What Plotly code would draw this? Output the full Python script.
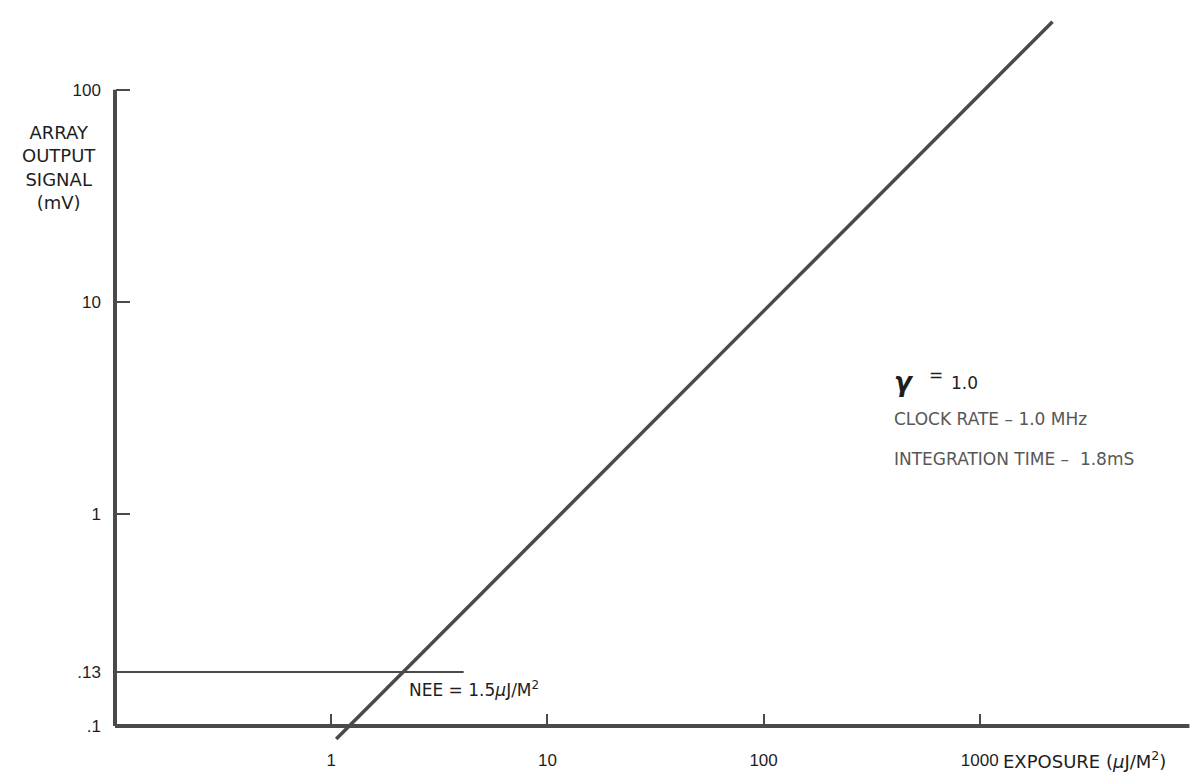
import math
import plotly.graph_objects as go

# ---- data ----
x_tick_vals = [1, 10, 100, 1000]
x_tick_text = ["1", "10", "100", "1000"]
y_tick_vals = [0.1, 0.18, 1, 10, 100]
y_tick_text = [".1", ".13", "1", "10", "100"]

# response line (gamma = 1.0)
resp_x = [1.055, 2170]
resp_y = [0.087, 209]

# NEE level line (labelled .13)
nee_x = [0.1, 4.1]
nee_y = [0.18, 0.18]

# drawn axes
axis_origin = 0.1
x_axis_end = 9330
y_axis_end = 100

# ---- layout ----
W, H = 1203, 772
ML, MR, MT, MB = 99, 17, 10, 32
x_range = [-1.037, 3.991]
y_range = [-1.089, 2.338]

line_col = "#4a4a4a"
txt_col = "#1e1e1e"
gray_txt = "#575757"
tick_font = "Liberation Sans, Arial, sans-serif"
text_font = "DejaVu Sans, Liberation Sans, sans-serif"

pw, ph = W - ML - MR, H - MT - MB


def px(xp):
    return (xp - ML) / pw


def py(yp):
    return (H - MB - yp) / ph


x_axis_pos = (math.log10(axis_origin) - y_range[0]) / (y_range[1] - y_range[0])
y_axis_pos = (math.log10(axis_origin) - x_range[0]) / (x_range[1] - x_range[0])

fig = go.Figure()

# drawn axis lines
fig.add_trace(go.Scatter(x=[axis_origin, x_axis_end], y=[axis_origin, axis_origin],
                         mode="lines", line=dict(color=line_col, width=4),
                         hoverinfo="skip"))
fig.add_trace(go.Scatter(x=[axis_origin, axis_origin], y=[axis_origin, y_axis_end],
                         mode="lines", line=dict(color=line_col, width=4),
                         hoverinfo="skip"))
# NEE line
fig.add_trace(go.Scatter(x=nee_x, y=nee_y, mode="lines",
                         line=dict(color=line_col, width=2), hoverinfo="skip"))
# response
fig.add_trace(go.Scatter(x=resp_x, y=resp_y, mode="lines",
                         line=dict(color=line_col, width=3.5)))

annotations = [
    dict(text="ARRAY<br>OUTPUT<br>SIGNAL<br>(mV)", x=px(51), y=py(160),
         xanchor="center", yanchor="middle", align="center",
         font=dict(size=18, color=txt_col, family=text_font)),
    dict(text="EXPOSURE (<i>μ</i>J/M<sup>2</sup>)", x=px(993), y=py(755),
         xanchor="left", yanchor="middle",
         font=dict(size=18, color=txt_col, family=text_font)),
    dict(text="NEE = 1.5<i>μ</i>J/M<sup>2</sup>", x=px(399), y=py(684),
         xanchor="left", yanchor="middle",
         font=dict(size=17, color=txt_col, family=text_font)),
    dict(text="<b><i>γ</i></b>", x=px(884), y=py(375),
         xanchor="left", yanchor="middle",
         font=dict(size=26, color=txt_col, family=text_font)),
    dict(text="=", x=px(919), y=py(368),
         xanchor="left", yanchor="middle",
         font=dict(size=17, color=txt_col, family=text_font)),
    dict(text="1.0", x=px(941), y=py(377),
         xanchor="left", yanchor="middle",
         font=dict(size=17, color=txt_col, family=text_font)),
    dict(text="CLOCK RATE – 1.0 MHz", x=px(884), y=py(413),
         xanchor="left", yanchor="middle",
         font=dict(size=17, color=gray_txt, family=text_font)),
    dict(text="INTEGRATION TIME –  1.8mS", x=px(884), y=py(453),
         xanchor="left", yanchor="middle",
         font=dict(size=17, color=gray_txt, family=text_font)),
]
for a in annotations:
    a.update(xref="paper", yref="paper", showarrow=False)

fig.update_layout(
    width=W, height=H,
    margin=dict(l=ML, r=MR, t=MT, b=MB, pad=0),
    paper_bgcolor="white", plot_bgcolor="white",
    showlegend=False,
    font=dict(family=tick_font, color=txt_col),
    annotations=annotations,
    xaxis=dict(type="log", range=x_range, showgrid=False, zeroline=False,
               showline=False, anchor="free", position=x_axis_pos,
               tickmode="array", tickvals=x_tick_vals, ticktext=x_tick_text,
               ticks="inside", ticklen=12, tickwidth=2, tickcolor=line_col,
               ticklabelstandoff=22, tickfont=dict(size=17, color=txt_col)),
    yaxis=dict(type="log", range=y_range, showgrid=False, zeroline=False,
               showline=False, anchor="free", position=y_axis_pos,
               tickmode="array", tickvals=y_tick_vals, ticktext=y_tick_text,
               ticks="inside", ticklen=14, tickwidth=2, tickcolor=line_col,
               ticklabelstandoff=14, tickfont=dict(size=17, color=txt_col)),
)

fig.write_html("out.html")
